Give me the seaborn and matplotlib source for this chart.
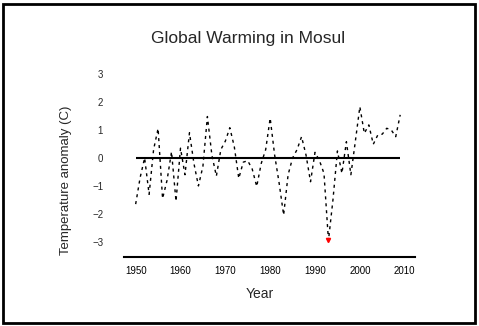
import numpy as np
import pandas as pd
import matplotlib
matplotlib.use("Agg")
import matplotlib.pyplot as plt
import seaborn as sns
from matplotlib.patches import Rectangle

years = list(range(1950, 2010))
anomaly = [-1.65, -0.7, 0.0, -1.3, 0.3, 1.05, -1.45, -0.8, 0.22, -1.55,
           0.35, -0.6, 0.9, -0.2, -1.0, -0.3, 1.48, 0.1, -0.65, 0.3,
           0.6, 1.08, 0.4, -0.73, -0.15, -0.1, -0.4, -1.02, -0.2, 0.3,
           1.42, 0.1, -0.9, -2.04, -0.6, 0.0, 0.3, 0.76, 0.1, -0.85,
           0.2, -0.1, -0.55, -2.95, -1.5, 0.25, -0.55, 0.58, -0.6, 0.6,
           1.83, 0.88, 1.18, 0.49, 0.82, 0.85, 1.06, 1.0, 0.76, 1.54]
xticks = [1950, 1960, 1970, 1980, 1990, 2000, 2010]
yticks = [-3, -2, -1, 0, 1, 2, 3]

df = pd.DataFrame({"Year": years, "Anomaly": anomaly})

sns.set_style("white")
plt.rcParams['font.family'] = ['Liberation Sans', 'DejaVu Sans']

fig = plt.figure(figsize=(4.79, 3.26), dpi=100)
ax = fig.add_axes([124/479, 1-257/326, (415-124)/479, (257-60)/326])

sns.lineplot(data=df, x="Year", y="Anomaly", ax=ax, color="black",
             linewidth=1.0, linestyle=(0, (2.2, 2.8)))
ax.hlines(0, years[0], years[-1], color="black", linewidth=1.5)
imin = int(np.argmin(anomaly))
ax.plot([years[imin]], [anomaly[imin]], marker="v", color="red",
        markersize=3, linestyle="none")

ax.set_xlim(1947.4, 2012.3)
ax.set_ylim(-3.54, 3.5)
ax.set_xticks(xticks)
ax.set_yticks(yticks)
ax.tick_params(axis="x", labelsize=7, length=3, width=1, colors="black")
ax.tick_params(axis="y", labelsize=7, length=0, pad=15)
for s in ["top", "right", "left"]:
    ax.spines[s].set_visible(False)
ax.spines["bottom"].set_color("black")
ax.spines["bottom"].set_linewidth(1.5)

fig.text(248/479, 1-38/326, "Global Warming in Mosul", fontsize=12.5,
         ha="center", va="center")
ax.set_xlabel("Year", fontsize=10, labelpad=8)
ax.xaxis.set_label_coords((260-124)/(415-124), -0.15)
ax.set_ylabel("Temperature anomaly (C)", fontsize=9.5)
ax.yaxis.set_label_coords(-0.18, 0.39)

fig.patches.append(Rectangle((3/479, 3/326), 472/479, 319/326,
                             transform=fig.transFigure, fill=False,
                             edgecolor="black", linewidth=2))

fig.savefig("out.png", dpi=100)
